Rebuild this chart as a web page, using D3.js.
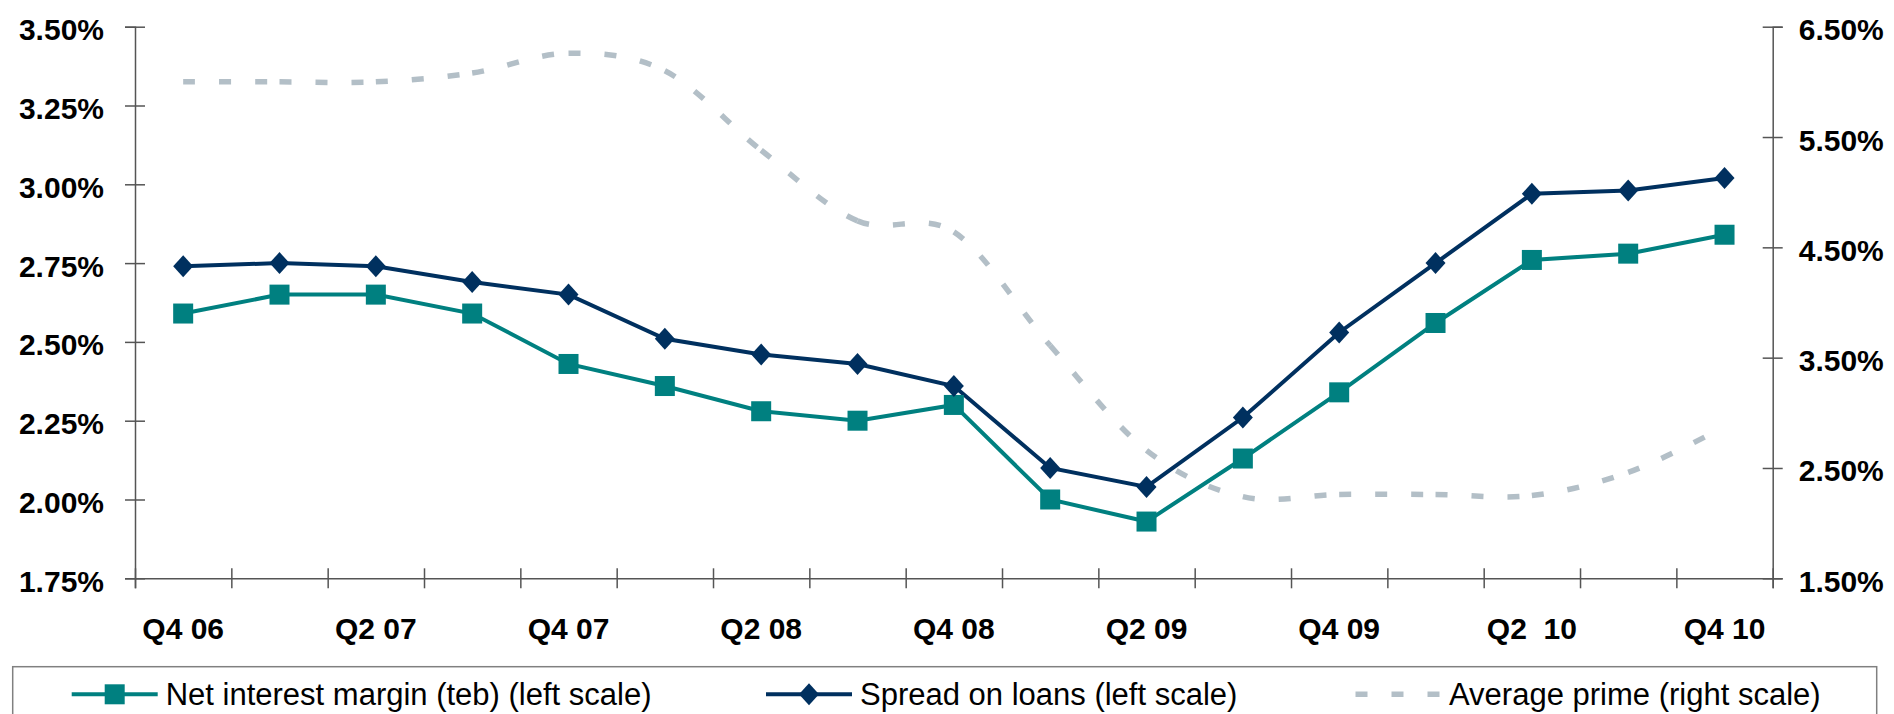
<!DOCTYPE html>
<html>
<head>
<meta charset="utf-8">
<script src="https://cdn.jsdelivr.net/npm/d3@7"></script>
<style>
body { margin:0; background:#fff; }
text { font-family: "Liberation Sans", Arial, sans-serif; }
</style>
</head>
<body>
<div id="chart-area"></div>
<script>
const categories = ['Q4 06','Q1 07','Q2 07','Q3 07','Q4 07','Q1 08','Q2 08','Q3 08','Q4 08',
	'Q1 09','Q2 09','Q3 09','Q4 09','Q1 10','Q2  10','Q3 10','Q4 10']
const shownLabels = ['Q4 06','Q2 07','Q4 07','Q2 08','Q4 08','Q2 09','Q4 09','Q2  10','Q4 10']

const netInterestMargin = [2.59,2.65,2.65,2.59,2.43,2.36,2.28,2.25,2.30,2.00,1.93,2.13,2.34,2.56,2.76,2.78,2.84]
const spreadOnLoans = [2.74,2.75,2.74,2.69,2.65,2.51,2.46,2.43,2.36,2.10,2.04,2.26,2.53,2.75,2.97,2.98,3.02]
const averagePrime = [6.00,6.00,6.00,6.08,6.26,6.10,5.38,4.74,4.64,3.61,2.66,2.24,2.26,2.26,2.25,2.46,2.87]

const leftTicks = [1.75,2.00,2.25,2.50,2.75,3.00,3.25,3.50]
const rightTicks = [1.5,2.5,3.5,4.5,5.5,6.5]

const COLORS = { nim:'#008080', spread:'#00305f', prime:'#b3bfc7', axis:'#555' }

const LEFT = 135, RIGHT = 1772.7, TOP = 26.7, BOTTOM = 578.3

const svg = d3.select('#chart-area')
.append('svg')
.attr('width',1894)
.attr('height',714)

const x = d3.scaleBand().domain(categories).range([LEFT,RIGHT])
const xi = d3.scaleLinear().domain([0,categories.length]).range([LEFT,RIGHT])
const cx = c => x(c) + x.bandwidth()/2

const yL = d3.scaleLinear().domain([1.75,3.5]).range([BOTTOM,TOP])
const yR = d3.scaleLinear().domain([1.5,6.5]).range([BOTTOM,TOP])

const pct = d => d3.format('.2f')(d) + '%'

// left axis
const leftAxis = svg.append('g')
.attr('transform',`translate(${LEFT},0)`)
.call(d3.axisLeft(yL).tickValues(leftTicks).tickFormat(pct).tickSizeOuter(0).tickSize(10))
leftAxis.selectAll('.tick line').attr('x1',10).attr('x2',-10)
leftAxis.selectAll('.tick text').attr('x',-31).attr('dy',13)

// right axis
const rightAxis = svg.append('g')
.attr('transform',`translate(${RIGHT},0)`)
.call(d3.axisRight(yR).tickValues(rightTicks).tickFormat(pct).tickSizeOuter(0).tickSize(10))
rightAxis.selectAll('.tick line').attr('x1',-10).attr('x2',10)
rightAxis.selectAll('.tick text').attr('x',26).attr('dy',13)

// x axis ticks at category boundaries
const xTickAxis = svg.append('g')
.attr('transform',`translate(0,${BOTTOM})`)
.call(d3.axisBottom(xi).tickValues(d3.range(categories.length+1)).tickFormat('').tickSizeOuter(0).tickSize(10))
xTickAxis.selectAll('.tick line').attr('y1',-10).attr('y2',10)

// x labels
const xLabelAxis = svg.append('g')
.attr('transform',`translate(0,${BOTTOM})`)
.call(d3.axisBottom(x).tickSize(0).tickFormat(d => shownLabels.includes(d) ? d : ''))
xLabelAxis.select('.domain').remove()
xLabelAxis.selectAll('.tick text').attr('y',61).attr('dy',0).style('white-space','pre')

svg.selectAll('.domain, .tick line').attr('stroke',COLORS.axis).attr('stroke-width',1.5)
svg.selectAll('.tick text')
.attr('fill','#000')
.style('font-size','30px')
.style('font-weight','bold')
.style('font-family','"Liberation Sans", Arial, sans-serif')

// average prime: smoothed, dash pattern restarting on each segment
const primePts = averagePrime.map((v,i) => [cx(categories[i]), yR(v)])
const n = primePts.length
for (let i = 0; i < n-1; i++) {
	const p0 = primePts[Math.max(i-1,0)], p1 = primePts[i], p2 = primePts[i+1], p3 = primePts[Math.min(i+2,n-1)]
	const path = d3.path()
	path.moveTo(p1[0],p1[1])
	path.bezierCurveTo(p1[0]+(p2[0]-p0[0])/6, p1[1]+(p2[1]-p0[1])/6,
		p2[0]-(p3[0]-p1[0])/6, p2[1]-(p3[1]-p1[1])/6, p2[0], p2[1])
	svg.append('path')
	.attr('d',path.toString())
	.attr('fill','none')
	.attr('stroke',COLORS.prime)
	.attr('stroke-width',5.5)
	.attr('stroke-dasharray','12,24')
}

const line = d3.line().x((d,i) => cx(categories[i])).y(d => yL(d))

svg.append('path')
.attr('d',line(netInterestMargin))
.attr('fill','none')
.attr('stroke',COLORS.nim)
.attr('stroke-width',4)

svg.append('path')
.attr('d',line(spreadOnLoans))
.attr('fill','none')
.attr('stroke',COLORS.spread)
.attr('stroke-width',4)

const diamond = 'M0,-11L10,0L0,11L-10,0Z'

svg.selectAll('.nim-pt').data(netInterestMargin).enter().append('rect')
.attr('class','nim-pt')
.attr('x',(d,i) => cx(categories[i]) - 10)
.attr('y',d => yL(d) - 10)
.attr('width',20)
.attr('height',20)
.attr('fill',COLORS.nim)

svg.selectAll('.spread-pt').data(spreadOnLoans).enter().append('path')
.attr('class','spread-pt')
.attr('d',diamond)
.attr('transform',(d,i) => `translate(${cx(categories[i])},${yL(d)})`)
.attr('fill',COLORS.spread)

// legend
const legend = svg.append('g')
legend.append('rect')
.attr('x',12.7).attr('y',666.7)
.attr('width',1864).attr('height',60)
.attr('fill','none')
.attr('stroke','#808080')
.attr('stroke-width',1.5)

const LY = 694.3
legend.append('line').attr('x1',71.7).attr('x2',157.7).attr('y1',LY).attr('y2',LY)
.attr('stroke',COLORS.nim).attr('stroke-width',4)
legend.append('rect').attr('x',104.7).attr('y',LY-10).attr('width',20).attr('height',20).attr('fill',COLORS.nim)

legend.append('line').attr('x1',766).attr('x2',852).attr('y1',LY).attr('y2',LY)
.attr('stroke',COLORS.spread).attr('stroke-width',4)
legend.append('path').attr('d',diamond).attr('transform',`translate(809,${LY})`).attr('fill',COLORS.spread)

legend.append('line').attr('x1',1355.5).attr('x2',1440).attr('y1',LY).attr('y2',LY)
.attr('stroke',COLORS.prime).attr('stroke-width',5.5).attr('stroke-dasharray','12,24')

const legendText = [
	['Net interest margin (teb) (left scale)',165.7],
	['Spread on loans (left scale)',860],
	['Average prime (right scale)',1449]
]
legendText.forEach(([t,lx]) => {
	legend.append('text')
	.attr('x',lx)
	.attr('y',LY+10.5)
	.style('font-size','31px')
	.attr('fill','#000')
	.text(t)
})
</script>
</body>
</html>
